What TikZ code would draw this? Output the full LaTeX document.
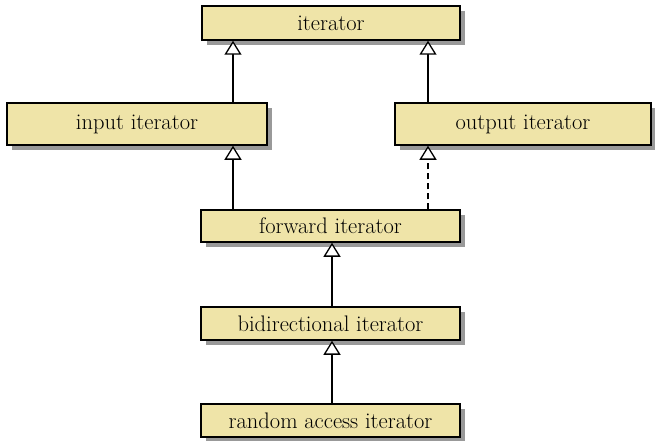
\documentclass[tikz,border=0pt]{standalone}
\usepackage{fontspec}
\usetikzlibrary{arrows.meta,shadows}
\definecolor{boxfill}{RGB}{239,228,168}
\begin{document}
\begin{tikzpicture}[x=1pt,y=1pt,
  cls/.style={draw=black, line width=1.5pt, fill=boxfill, inner sep=0pt,
    drop shadow={shadow xshift=5pt, shadow yshift=-5pt, fill=black!40, opacity=1},
    font=\fontsize{22.5}{25}\selectfont},
  inh/.style={line width=1.3pt, -{Triangle[length=14pt,width=17pt,fill=white,line width=1.3pt]}},
  dashinh/.style={inh, dash pattern=on 6pt off 4pt}]
\useasboundingbox (0,0) rectangle (655,440);
\node[cls, minimum width=258pt, minimum height=34pt] (iter) at (331,417) {iterator};
\node[cls, minimum width=260pt, minimum height=42pt] (input) at (137,316) {input iterator};
\node[cls, minimum width=256pt, minimum height=42pt] (output) at (523,316) {output iterator};
\node[cls, minimum width=259pt, minimum height=32pt] (fwd) at (330.5,214) {forward iterator};
\node[cls, minimum width=259pt, minimum height=33pt] (bidir) at (330.5,116.5) {bidirectional iterator};
\node[cls, minimum width=259pt, minimum height=33pt] (rand) at (330.5,19.5) {random access iterator};
\draw[inh] ([xshift=96pt]input.north) -- ([xshift=96pt]input.north |- iter.south);
\draw[inh] ([xshift=-95pt]output.north) -- ([xshift=-95pt]output.north |- iter.south);
\draw[inh] ([xshift=-97.5pt]fwd.north) -- ([xshift=-97.5pt]fwd.north |- input.south);
\draw[dashinh] ([xshift=97.5pt]fwd.north) -- ([xshift=97.5pt]fwd.north |- output.south);
\draw[inh] ([xshift=1.5pt]bidir.north) -- ([xshift=1.5pt]bidir.north |- fwd.south);
\draw[inh] ([xshift=1.5pt]rand.north) -- ([xshift=1.5pt]rand.north |- bidir.south);
\end{tikzpicture}
\end{document}
